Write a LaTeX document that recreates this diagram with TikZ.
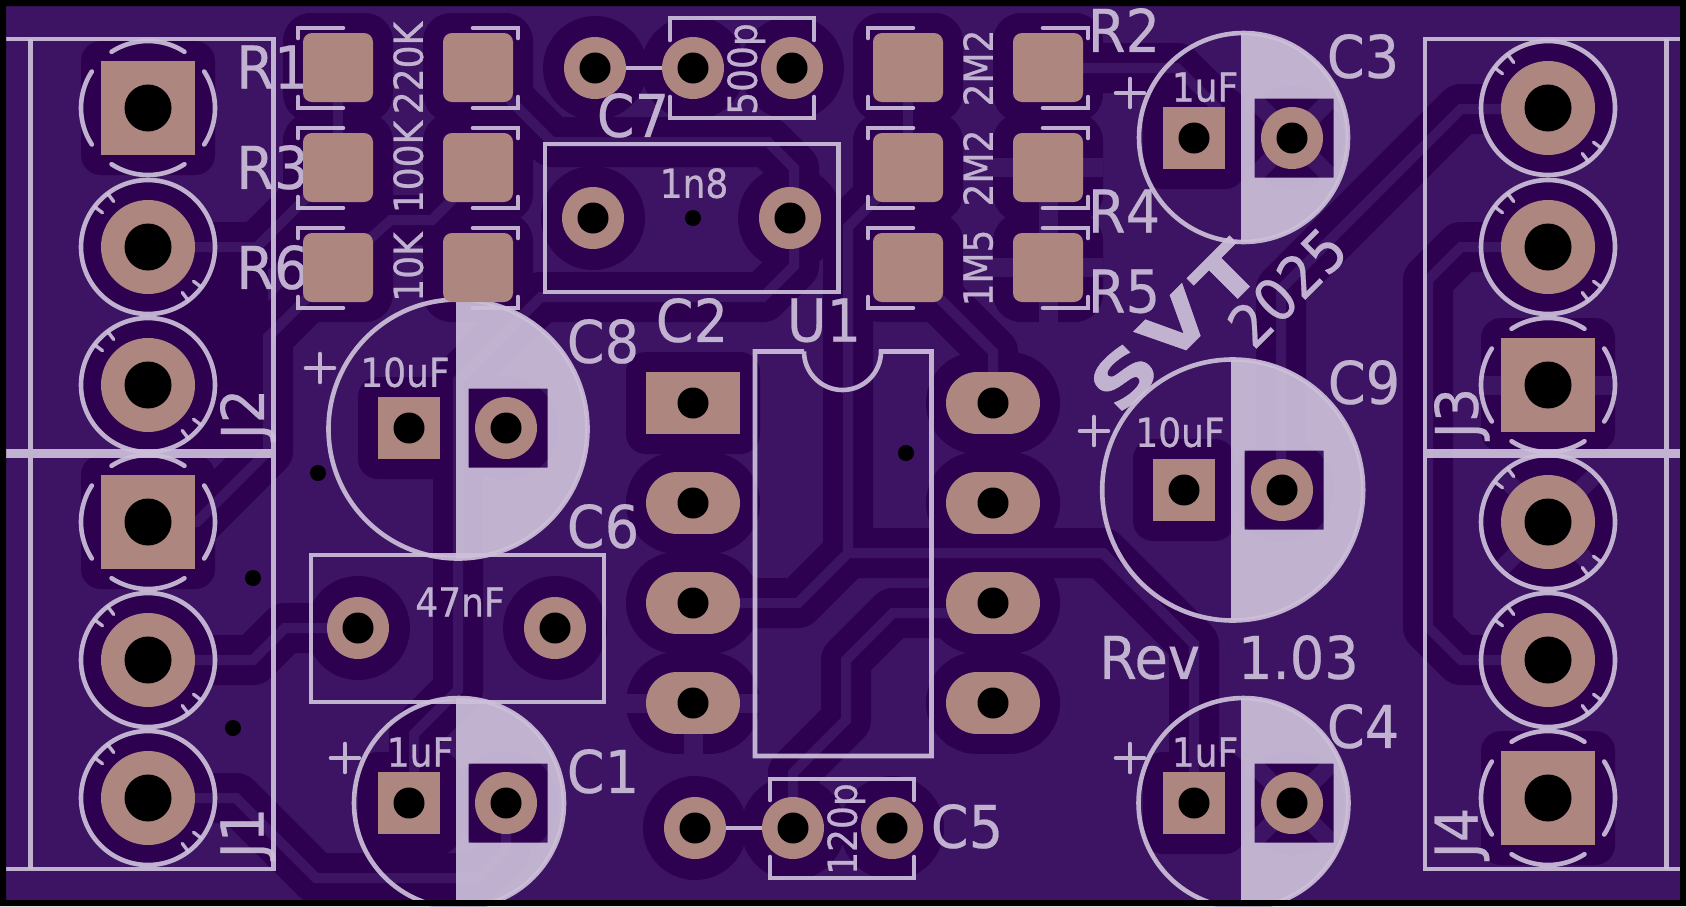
\documentclass[tikz,border=0pt]{standalone}
\usepackage{fontspec}
\newfontfamily\silkfont[FakeStretch=0.92,FakeBold=0.35]{DejaVu Sans}
\newfontfamily\silksmall[FakeStretch=0.9,FakeBold=0.6]{DejaVu Sans}
\newfontfamily\silkheavy[FakeStretch=1.3,FakeBold=0.6]{DejaVu Sans Bold}
\newcommand\txtbig{\silkfont\fontsize{59}{59}\selectfont}
\newcommand\txtsm{\silksmall\fontsize{40}{40}\selectfont}
\definecolor{lightcu}{HTML}{3C1463}
\definecolor{darkcu}{HTML}{2E0050}
\definecolor{silkc}{HTML}{CDC0DA}
\definecolor{padc}{HTML}{AE8680}
\tikzset{
  clear/.style={draw=darkcu,line width=50pt,line join=round,line cap=round},
  copper/.style={draw=lightcu,line width=10pt,line join=miter,line cap=butt},
  spoke/.style={draw=lightcu,line width=19pt},
  silkline/.style={draw=silkc,opacity=.92,line width=4.6pt,line cap=round,line join=miter},
  silkfill/.style={fill=silkc,opacity=.92},
  stxt/.style={text=silkc,opacity=.92,inner sep=0pt,text depth=0pt},
  big/.style={stxt,font=\txtbig},
  small/.style={stxt,font=\txtsm},
}
\newcommand\drawtracks[1]{%
  \draw[#1] (148,247)--(257,247)--(338,166);
  \draw[#1] (338,267)--(391,220)--(432,220)--(478,174);
  \draw[#1] (148,522)--(197,522)--(268,451)--(268,337)--(338,267);
  \draw[#1] (908,267)--(993,352)--(993,403);
  \draw[#1] (693,603)--(798,603)--(848,553)--(848,227)--(908,167);
  \draw[#1] (848,553)--(1103,553)--(1194,644)--(1194,803);
  \draw[#1] (993,613)--(893,613)--(846,660)--(846,720)--(793,773)--(793,828);
  \draw[#1] (148,660)--(253,660)--(285,628)--(358,628);
  \draw[#1] (148,798)--(236,798)--(316,878)--(478,878)--(506,850)--(506,803);
  \draw[#1] (478,68)--(552,142)--(768,142)--(794,168)--(794,266)--(763,297)--(541,297)--(458,380)--(458,690)--(414,734)--(414,803);
  \draw[#1] (1048,68)--(1177,68)--(1218,109)--(1194,138);
  \draw[#1] (1548,109)--(1461,109)--(1281,289)--(1281,490);
  \draw[#1] (1548,247)--(1461,247)--(1428,280)--(1428,627)--(1461,660)--(1548,660);
}
\newcommand\ecap[6]{%
  \pgfmathsetmacro\acapa{acos((#4-#1)/#3)}%
  \fill[silkfill,even odd rule] plot[domain=-\acapa:\acapa,samples=90] ({#1+#3*cos(\x)},{#2+#3*sin(\x)}) -- cycle (#5-37.5,#6-39.5) rectangle (#5+41.5,#6+39.5);
  \draw[silkline] (#1,#2) circle[radius=#3pt];
}
\newcommand\sarc[5]{\draw[silkline] plot[domain=#4:#5,samples=24] ({#1+#3*cos(\x)},{#2+#3*sin(\x)});}
\newcommand\brokenring[2]{%
  \foreach \ang in {0,90,180,270}{\sarc{#1}{#2}{67}{\ang-33}{\ang+33}}
}
\newcommand\tickring[2]{%
  \draw[silkline] (#1,#2) circle[radius=67pt];
  \foreach \ang in {37,53,217,233}{
    \draw[silkline,line width=3.4pt] ({#1+67*cos(\ang)},{#2+67*sin(\ang)}) -- ({#1+57*cos(\ang)},{#2+57*sin(\ang)});
  }
}
\newcommand\brk[4]{%
  \draw[silkline] (#1+45,#3)--(#1,#3)--(#1,#3+10);
  \draw[silkline] (#1,#4-11)--(#1,#4)--(#1+45,#4);
  \draw[silkline] (#2-45,#3)--(#2,#3)--(#2,#3+10);
  \draw[silkline] (#2,#4-11)--(#2,#4)--(#2-45,#4);
}
\newcommand\plusmark[2]{\draw[silkline] (#1-14,#2)--(#1+14,#2) (#1,#2-14)--(#1,#2+14);}
\begin{document}
\begin{tikzpicture}[x=1pt,y=-1pt]
\useasboundingbox (0,0) rectangle (1686,906);
% board
\fill[lightcu] (0,0) rectangle (1686,906);
% copper-free areas
\fill[darkcu] (148,247) rectangle (268,455);
\foreach \px/\py in {595/68,693/68,792/68,593/218,790/218,358/628,555/628,695/828,793/828,892/828,506/428,506/803,1292/138,1292/803,1282/490}
  \fill[darkcu] (\px,\py) circle[radius=52pt];
\foreach \px/\py in {409/428,409/803,1194/138,1194/803,1184/490}
  \fill[darkcu,rounded corners=20pt] (\px-51,\py-51) rectangle (\px+51,\py+51);
\foreach \px/\py in {148/247,148/385,148/660,148/798,1548/108,1548/247,1548/522,1548/660}
  \fill[darkcu] (\px,\py) circle[radius=67pt];
\foreach \px/\py in {148/108,148/522,1548/385,1548/798}
  \fill[darkcu,rounded corners=20pt] (\px-67,\py-67) rectangle (\px+67,\py+67);
\fill[darkcu,rounded corners=20pt] (626,352) rectangle (760,454);
\foreach \px/\py in {693/503,693/603,693/703,993/403,993/503,993/603,993/703}
  \draw[darkcu,line width=102pt,line cap=round] (\px-16,\py)--(\px+16,\py);
\foreach \px in {338,478,908,1048}
  \foreach \py in {67.5,167.5,267.5}
    \fill[darkcu,rounded corners=28pt] (\px-55,\py-54.5) rectangle (\px+55,\py+54.5);
\drawtracks{clear}
% copper
\drawtracks{copper}
\draw[copper] (338,100)--(338,135);
\draw[copper] (908,100)--(908,135);
\draw[spoke] (625,703)--(761,703) (693,703)--(693,756);
\draw[spoke] (1480,385)--(1616,385);
\foreach \px/\py/\rr in {1548/522/66,1292/138/55,1292/803/55}
  \foreach \ang in {45,135,225,315}
    \draw[spoke,line width=17pt] (\px,\py)--({\px+\rr*cos(\ang)},{\py+\rr*sin(\ang)});
\draw[spoke] (993,167)--(1103,167) (1048,167)--(1048,267) (993,267)--(1103,267) (1048,267)--(1048,325);
% silk housings
\fill[silkfill] (6,449) rectangle (276,458);
\fill[silkfill] (1423,449) rectangle (1680,458);
\draw[silkline,line cap=butt] (6,39)--(273.5,39)--(273.5,449);
\draw[silkline,line cap=butt] (273.5,458)--(273.5,869)--(6,869);
\draw[silkline,line cap=butt] (30.7,39)--(30.7,449) (30.7,458)--(30.7,869);
\draw[silkline,line cap=butt] (1680,39)--(1425,39)--(1425,449);
\draw[silkline,line cap=butt] (1425,458)--(1425,869)--(1680,869);
\draw[silkline,line cap=butt] (1666.5,39)--(1666.5,449) (1666.5,458)--(1666.5,869);
\brokenring{148}{108}\brokenring{148}{522}\brokenring{1548}{385}\brokenring{1548}{798}
\foreach \px/\py in {148/247,148/385,148/660,148/798,1548/108,1548/247,1548/522,1548/660}{\tickring{\px}{\py}}
% resistor brackets
\foreach \ya/\yb in {28/108,128/208,228/308}{\brk{298}{518}{\ya}{\yb}\brk{868}{1088}{\ya}{\yb}}
% electrolytics
\ecap{458}{429}{129.5}{456}{506}{428}
\ecap{459}{803}{105}{456}{506}{803}
\ecap{1243.5}{137.5}{104.5}{1241}{1292}{138}
\ecap{1243.5}{803}{105}{1241}{1292}{803}
\ecap{1232.7}{490}{130.5}{1231}{1282}{490}
\plusmark{320}{368}\plusmark{345}{758}\plusmark{1130}{93}\plusmark{1130}{758}\plusmark{1094}{431}
% film caps
\draw[silkline,line cap=butt] (545,144) rectangle (838.5,292);
\draw[silkline,line cap=butt] (311,555) rectangle (604,702);
\draw[silkline] (670,40)--(670,18)--(814,18)--(814,40);
\draw[silkline] (670,97)--(670,118)--(814,118)--(814,97);
\draw[silkline] (770,800)--(770,779)--(914,779)--(914,800);
\draw[silkline] (770,857)--(770,878)--(914,878)--(914,857);
\draw[silkline,line cap=butt] (626,68)--(662,68);
\draw[silkline,line cap=butt] (726,828)--(762,828);
% U1 outline
\draw[silkline,line cap=butt] (804,351.5)--(755,351.5)--(755,756)--(931.5,756)--(931.5,351.5)--(881,351.5) arc[start angle=0,end angle=-180,radius=38.5pt];
% labels
\node[big] (tr1) at (272.5,67) {R1};
\node[big] (tr3) at (272.5,167) {R3};
\node[big] (tr6) at (272.5,267) {R6};
\node[big] (tr2) at (1124,30) {R2};
\node[big] (tr4) at (1124,211) {R4};
\node[big] (tr5) at (1124,291) {R5};
\node[big] (tc7) at (633,115) {C7};
\node[big] (tc2) at (692,320) {C2};
\node[big] (tu1) at (824,320) {U1};
\node[big] (tc8) at (603,341) {C8};
\node[big] (tc6) at (603,526) {C6};
\node[big] (tc1) at (603,771) {C1};
\node[big] (tc5) at (967,826) {C5};
\node[big] (tc3) at (1363,56) {C3};
\node[big] (tc9) at (1364,382) {C9};
\node[big] (tc4) at (1363,726) {C4};
\node[big,rotate=90] (tj2) at (242,414) {J2};
\node[big,rotate=90] (tj1) at (242,833) {J1};
\node[big,rotate=90] (tj3) at (1456,413) {J3};
\node[big,rotate=90] (tj4) at (1456,833) {J4};
\node[small,rotate=90] (v1) at (408,68) {220K};
\node[small,rotate=90] (v2) at (408,167) {100K};
\node[small,rotate=90] (v3) at (408,267) {10K};
\node[small,rotate=90] (v4) at (978,68) {2M2};
\node[small,rotate=90] (v5) at (978,168) {2M2};
\node[small,rotate=90] (v6) at (978,268) {1M5};
\node[small,rotate=90] (v7) at (742,69) {500p};
\node[small,rotate=90] (v8) at (842,829) {120p};
\node[small] (v9) at (694,183) {1n8};
\node[small] (v10) at (460,602) {47nF};
\node[small] (v11) at (405,372) {10uF};
\node[small] (v12) at (420,752) {1uF};
\node[small] (v13) at (1205,87) {1uF};
\node[small] (v14) at (1205,752) {1uF};
\node[small] (v15) at (1180,432) {10uF};
\node[big] (rev) at (1229,657) {Rev\hspace{38pt}1.03};
\node[big,rotate=45] (year) at (1287,287) {2025};
\node[stxt,font=\silkheavy\fontsize{69}{69}\selectfont,rotate=45] (svt) at (1174,326) {S\hspace{6pt}V\hspace{6pt}T};
% pads
\foreach \px/\py in {595/68,693/68,792/68,593/218,790/218,358/628,555/628,695/828,793/828,892/828,506/428,506/803,1292/138,1292/803,1282/490}{
  \fill[padc] (\px,\py) circle[radius=31pt];
  \fill[black] (\px,\py) circle[radius=15.5pt];
}
\foreach \px/\py in {409/428,409/803,1194/138,1194/803,1184/490}{
  \fill[padc] (\px-31,\py-31) rectangle (\px+31,\py+31);
  \fill[black] (\px,\py) circle[radius=15.5pt];
}
\foreach \px/\py in {148/247,148/385,148/660,148/798,1548/108,1548/247,1548/522,1548/660}{
  \fill[padc] (\px,\py) circle[radius=47pt];
  \fill[black] (\px,\py) circle[radius=23.5pt];
}
\foreach \px/\py in {148/108,148/522,1548/385,1548/798}{
  \fill[padc] (\px-47,\py-47) rectangle (\px+47,\py+47);
  \fill[black] (\px,\py) circle[radius=23.5pt];
}
\fill[padc] (646,372) rectangle (740,434);
\fill[black] (693,403) circle[radius=15.5pt];
\foreach \px/\py in {693/503,693/603,693/703,993/403,993/503,993/603,993/703}{
  \draw[padc,line width=62pt,line cap=round] (\px-16,\py)--(\px+16,\py);
  \fill[black] (\px,\py) circle[radius=15.5pt];
}
\foreach \px in {338,478,908,1048}
  \foreach \py in {67.5,167.5,267.5}
    \fill[padc,rounded corners=9pt] (\px-35,\py-34.5) rectangle (\px+35,\py+34.5);
% vias
\foreach \px/\py in {693/218,906/453,318/473,253/578,233/728}
  \fill[black] (\px,\py) circle[radius=8pt];
% board edge
\fill[black,even odd rule] (0,0) rectangle (1686,906) (6,6) rectangle (1680,900);
\end{tikzpicture}
\end{document}
